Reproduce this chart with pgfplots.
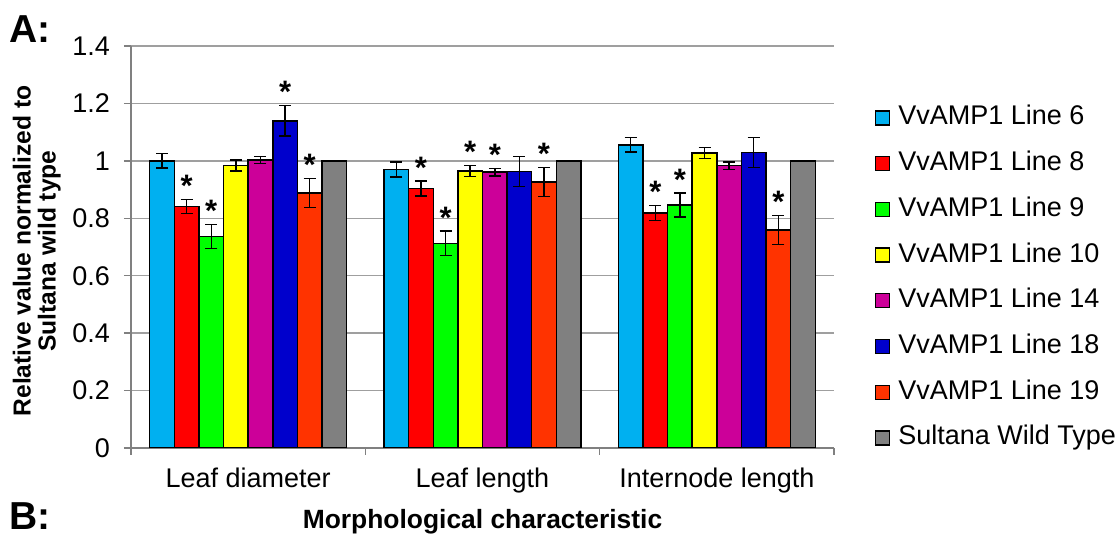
\documentclass[border=0pt]{standalone}
\usepackage{fontspec}
\setmainfont{Liberation Sans}
\usepackage{pgfplots}
\usepackage{pgfplotstable}
\pgfplotsset{compat=1.18}

\definecolor{cLsix}{HTML}{00B0F0}
\definecolor{cLeight}{HTML}{FF0000}
\definecolor{cLnine}{HTML}{00FF00}
\definecolor{cLten}{HTML}{FFFF00}
\definecolor{cLfourteen}{HTML}{CC0099}
\definecolor{cLeighteen}{HTML}{0000CC}
\definecolor{cLnineteen}{HTML}{FF3300}
\definecolor{cWT}{HTML}{808080}

\pgfplotstableread{
x y e s
0 1.000 0.025 {}
1 0.970 0.026 {}
2 1.056 0.026 {}
}\tLsix
\pgfplotstableread{
x y e s
0 0.841 0.025 *
1 0.904 0.026 *
2 0.818 0.026 *
}\tLeight
\pgfplotstableread{
x y e s
0 0.737 0.042 *
1 0.713 0.042 *
2 0.846 0.042 *
}\tLnine
\pgfplotstableread{
x y e s
0 0.984 0.019 {}
1 0.965 0.019 *
2 1.028 0.019 {}
}\tLten
\pgfplotstableread{
x y e s
0 1.003 0.013 {}
1 0.961 0.013 *
2 0.983 0.013 {}
}\tLfourteen
\pgfplotstableread{
x y e s
0 1.139 0.053 *
1 0.963 0.052 {}
2 1.029 0.053 {}
}\tLeighteen
\pgfplotstableread{
x y e s
0 0.888 0.050 *
1 0.926 0.051 *
2 0.759 0.050 *
}\tLnineteen
\pgfplotstableread{
x y e s
0 1.000 0.000 {}
1 1.000 0.000 {}
2 1.000 0.000 {}
}\tWT

\pgfplotsset{
  mybar/.style={fill=#1, draw=black, line width=0.75pt},
  myerr/.style={error bars/.cd, y dir=both, y explicit,
    error bar style={line width=0.75pt, black},
    error mark options={rotate=90, mark size=3pt, line width=0.75pt, black}},
}

\begin{document}
\begin{tikzpicture}
\useasboundingbox (0,0) rectangle (558pt,267.5pt);
\begin{axis}[
  at={(65.5pt,43.5pt)}, anchor=south west,
  scale only axis, width=351.5pt, height=201pt,
  ybar=0pt, bar width=0.105,
  xmin=-0.5, xmax=2.5, ymin=0, ymax=1.4,
  axis x line*=bottom, axis y line*=left,
  axis line style={draw=gray, line width=0.75pt, -},
  ytick={0,0.2,0.4,0.6,0.8,1,1.2,1.4},
  xtick={-0.5,0.5,1.5,2.5}, xticklabels={},
  extra x ticks={0,1,2},
  extra x tick labels={Leaf diameter, Leaf length, Internode length},
  extra x tick style={major tick length=0pt, xticklabel style={yshift=-6.5pt}},
  tick align=outside, major tick length=3.5pt,
  tick style={draw=gray, line width=0.75pt},
  ymajorgrids, grid style={draw=gray!75, line width=0.75pt},
  /pgf/number format/assume math mode=true,
  ticklabel style={font=\fontsize{13.5}{13.5}\selectfont},
  yticklabel style={xshift=-3.5pt},
  xticklabel style={font=\fontsize{13.5}{13.5}\selectfont},
  xlabel={Morphological characteristic},
  xlabel style={font=\bfseries\fontsize{13.2}{13.2}\selectfont, at={(axis description cs:0.5,-0.183)}, anchor=center},
  ylabel={Relative value normalized to\\Sultana wild type},
  ylabel style={font=\bfseries\fontsize{12.3}{12.5}\selectfont, align=center, at={(axis description cs:-0.134,0.49)}, anchor=center},
  nodes near coords, point meta=explicit symbolic,
  visualization depends on={\thisrow{e}\as\myerrv},
  every node near coord/.append style={font=\bfseries\fontsize{15.5}{15.5}\selectfont, inner sep=0pt, anchor=south, yshift={\myerrv*143.57pt+1pt}},
  legend style={at={(axis description cs:1.058,0.423)}, anchor=west, draw=none, fill=none, inner sep=0pt,
    font=\fontsize{13.5}{13.5}\selectfont, row sep=8.86pt,
    nodes={inner sep=0.5pt, text height=10pt, text depth=3pt},
    /tikz/every odd column/.append style={column sep=3.5pt}},
  legend cell align=left,
  legend image code/.code={\draw[#1, draw=black, line width=0.6pt] (0pt,-3.5pt) rectangle (7pt,3.5pt);},
]
\addplot[mybar=cLsix, myerr] table[x=x, y=y, y error=e, meta=s] {\tLsix};
\addlegendentry{VvAMP1 Line 6}
\addplot[mybar=cLeight, myerr] table[x=x, y=y, y error=e, meta=s] {\tLeight};
\addlegendentry{VvAMP1 Line 8}
\addplot[mybar=cLnine, myerr] table[x=x, y=y, y error=e, meta=s] {\tLnine};
\addlegendentry{VvAMP1 Line 9}
\addplot[mybar=cLten, myerr] table[x=x, y=y, y error=e, meta=s] {\tLten};
\addlegendentry{VvAMP1 Line 10}
\addplot[mybar=cLfourteen, myerr] table[x=x, y=y, y error=e, meta=s] {\tLfourteen};
\addlegendentry{VvAMP1 Line 14}
\addplot[mybar=cLeighteen, myerr] table[x=x, y=y, y error=e, meta=s] {\tLeighteen};
\addlegendentry{VvAMP1 Line 18}
\addplot[mybar=cLnineteen, myerr] table[x=x, y=y, y error=e, meta=s] {\tLnineteen};
\addlegendentry{VvAMP1 Line 19}
\addplot[mybar=cWT] table[x=x, y=y, meta=s] {\tWT};
\addlegendentry{Sultana Wild Type}
\end{axis}
\node[font=\bfseries\fontsize{19.5}{19.5}\selectfont, inner sep=0pt] at (15pt,253pt) {A:};
\node[font=\bfseries\fontsize{19.5}{19.5}\selectfont, inner sep=0pt, anchor=base] at (15pt,2.5pt) {B:};
\end{tikzpicture}
\end{document}
